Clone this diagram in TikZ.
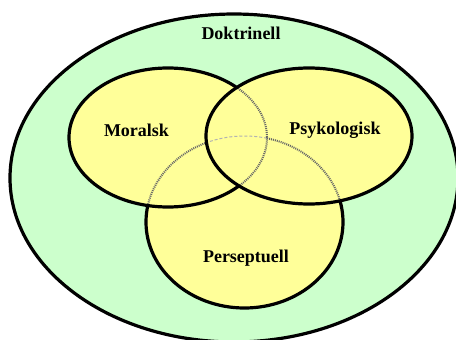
\documentclass[tikz,border=0pt]{standalone}
\usepackage{fontspec}
\setmainfont{Liberation Serif}
\usetikzlibrary{positioning}
\definecolor{doktrin}{HTML}{CCFFCC}
\definecolor{sfaere}{HTML}{FFFF99}
\newcommand{\moralsk}{(168,137.5) ellipse [x radius=99, y radius=69.5]}
\newcommand{\psyk}{(309,136) ellipse [x radius=103, y radius=68]}
\newcommand{\persept}{(244.5,222) ellipse [x radius=98.5, y radius=86]}
\newcommand{\helt}{(-20,-20) rectangle (480,360)}

\begin{document}
\begin{tikzpicture}[x=1pt, y=-1pt,
  lbl/.style={font=\fontsize{18}{20}\selectfont\bfseries, inner sep=0pt},
  rim/.style={line width=3.2pt},
  hidden/.style={line width=2pt, dash pattern=on 1pt off 1pt, black!60}]
\useasboundingbox (0,0) rectangle (456,340);
\filldraw[rim, fill=doktrin] (234,178) ellipse [x radius=224, y radius=164];
\fill[sfaere] \moralsk \psyk \persept;
% skjulte kanter
\begin{scope}[even odd rule]
\clip \moralsk; \clip \helt \psyk;
\draw[hidden] \persept;
\end{scope}
\begin{scope}[even odd rule]
\clip \psyk; \clip \helt \moralsk;
\draw[hidden] \persept;
\end{scope}
\begin{scope}
\clip \psyk; \clip \moralsk;
\draw[hidden, black!30, dash pattern=on 3pt off 2pt, line width=1pt] \persept;
\end{scope}
\begin{scope}
\clip \psyk;
\draw[hidden] \moralsk;
\end{scope}
% synlige kanter
\draw[rim] \psyk;
\begin{scope}[even odd rule]
\clip \helt \psyk;
\draw[rim] \moralsk;
\end{scope}
\begin{scope}[even odd rule]
\clip \helt \psyk; \clip \helt \moralsk;
\draw[rim] \persept;
\end{scope}
\node[lbl] (doktrinell) at (241,33) {Doktrinell};
\node[lbl] (moralsk) at (136.5,130) {Moralsk};
\node[lbl] (psykologisk) at (335,130) {Psykologisk};
\node[lbl] (perseptuell) at (246,258) {Perseptuell};
\end{tikzpicture}
\end{document}
